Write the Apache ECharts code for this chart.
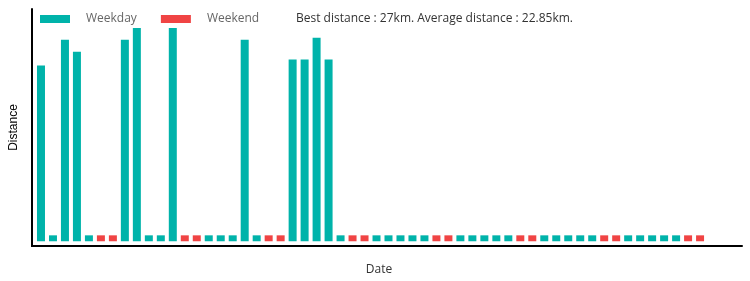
<!DOCTYPE html>
<html>
<head>
<meta charset="utf-8">
<script src="https://cdn.jsdelivr.net/npm/echarts@6/dist/echarts.min.js"></script>
<style>html,body{margin:0;padding:0;background:#fff}#c{width:750px;height:281px}</style>
</head>
<body>
<div id="c"></div>
<script>
// Day index (0..55) and distances (km)
var days = [];
for (var d = 0; d < 56; d++) days.push(d);
var distance = [
  22.25, 0.75, 25.5, 24, 0.75, 0.75, 0.75,
  25.5, 27, 0.75, 0.75, 27, 0.75, 0.75,
  0.75, 0.75, 0.75, 25.5, 0.75, 0.75, 0.75,
  23, 23, 25.75, 23, 0.75, 0.75, 0.75,
  0.75, 0.75, 0.75, 0.75, 0.75, 0.75, 0.75,
  0.75, 0.75, 0.75, 0.75, 0.75, 0.75, 0.75,
  0.75, 0.75, 0.75, 0.75, 0.75, 0.75, 0.75,
  0.75, 0.75, 0.75, 0.75, 0.75, 0.75, 0.75
];
var weekendFlag = [];
for (var k = 0; k < 56; k++) weekendFlag.push(k % 7 === 5 || k % 7 === 6);
var seriesNames = ['Weekday', 'Weekend'];
var summaryText = 'Best distance : 27km. Average distance : 22.85km.';

var weekdayData = [], weekendData = [];
days.forEach(function (d, i) {
  if (weekendFlag[i]) weekendData.push([d, distance[i]]);
  else weekdayData.push([d, distance[i]]);
});

var X_MIN = -0.75, X_MAX = 58.5, Y_MIN = -0.6, Y_MAX = 29.4;
var chart = echarts.init(document.getElementById('c'), null, {renderer: 'canvas'});
chart.setOption({
  animation: false,
  title: {
    text: summaryText,
    left: 291, top: 8,
    textStyle: {fontFamily: 'Open Sans', fontSize: 12, fontWeight: 'normal', color: '#333'}
  },
  legend: {
    left: 35, top: 8,
    itemWidth: 30, itemHeight: 8, itemGap: 24,
    icon: 'rect',
    textStyle: {fontFamily: 'Open Sans', fontSize: 12, color: '#666', padding: [0, 0, 0, 11]},
    data: seriesNames
  },
  grid: {left: 31, right: 8, top: 9, bottom: 32},
  xAxis: {
    type: 'value', min: X_MIN, max: X_MAX, z: 10,
    name: 'Date', nameLocation: 'middle', nameGap: 18,
    nameTextStyle: {fontFamily: 'Open Sans', fontSize: 12, color: '#333', padding: [0, 16, 0, 0]},
    axisLine: {show: true, onZero: false, lineStyle: {color: '#000', width: 2}},
    axisTick: {show: false}, axisLabel: {show: false}, splitLine: {show: false}
  },
  yAxis: {
    type: 'value', min: Y_MIN, max: Y_MAX, position: 'left', z: 10,
    name: 'Distance', nameLocation: 'middle', nameGap: 12,
    nameTextStyle: {fontFamily: 'Liberation Sans', fontSize: 12, color: '#000'},
    axisLine: {show: true, onZero: false, lineStyle: {color: '#000', width: 2}},
    axisTick: {show: false}, axisLabel: {show: false}, splitLine: {show: false}
  },
  series: [
    {name: seriesNames[0], type: 'bar', data: weekdayData, barWidth: 8, barGap: '-100%',
     clip: false,
     itemStyle: {color: '#00b3aa'},
     markLine: {
       silent: true, symbol: ['none', 'none'], label: {show: false},
       lineStyle: {color: '#000', width: 2, type: 'solid'},
       data: [[{coord: [X_MIN, Y_MIN]}, {coord: [X_MIN, Y_MAX]}]]
     }},
    {name: seriesNames[1], type: 'bar', data: weekendData, barWidth: 8, barGap: '-100%',
     itemStyle: {color: '#f04444'}}
  ]
});
// Extra safeguard: vertical axis line placed through the chart's own coordinate conversion
var pBottom = chart.convertToPixel({xAxisIndex: 0, yAxisIndex: 0}, [X_MIN, Y_MIN]);
var pTop = chart.convertToPixel({xAxisIndex: 0, yAxisIndex: 0}, [X_MIN, Y_MAX]);
if (pBottom && pTop) {
  chart.setOption({
    graphic: [{
      type: 'rect', z: 100,
      shape: {x: pTop[0] - 1, y: pTop[1], width: 2, height: pBottom[1] - pTop[1] + 1},
      style: {fill: '#000'}
    }]
  });
}
</script>
</body>
</html>
